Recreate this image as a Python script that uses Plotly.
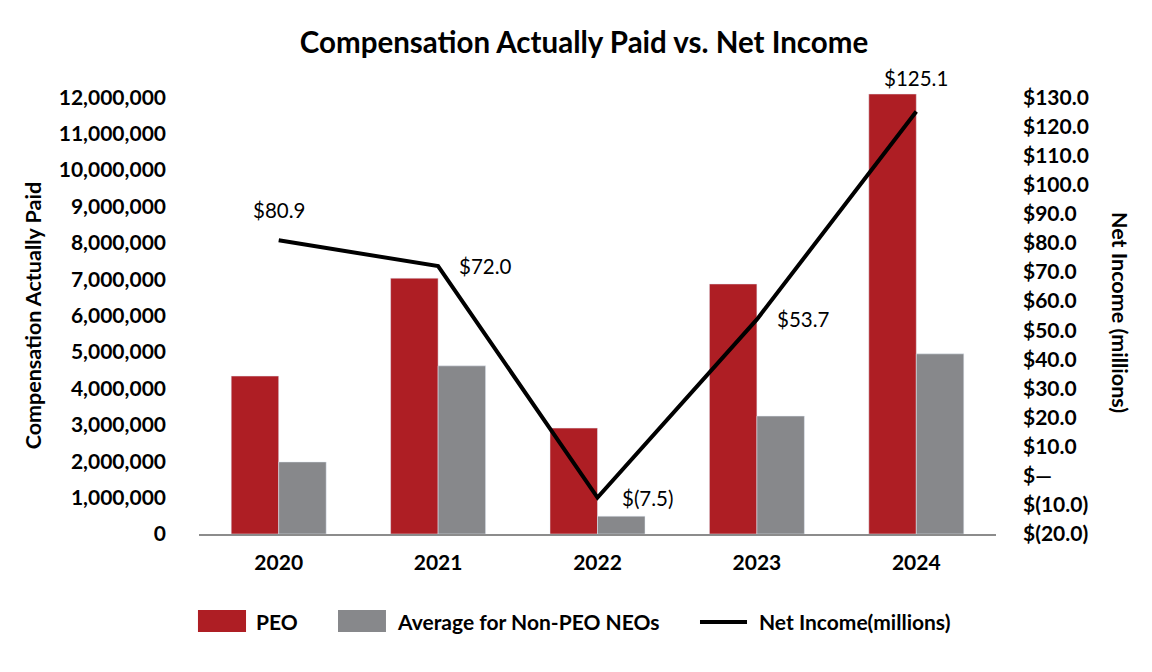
import plotly.graph_objects as go

# Chart data
years = ["2020", "2021", "2022", "2023", "2024"]
peo_cap = [4340000, 7030000, 2910000, 6870000, 12090000]
neo_avg_cap = [1980000, 4620000, 490000, 3240000, 4950000]
net_income = [80.9, 72.0, -7.5, 53.7, 125.1]
net_income_labels = ["$80.9", "$72.0", "$(7.5)", "$53.7", "$125.1"]

left_ticks = list(range(0, 13000000, 1000000))
right_ticks = list(range(-20, 140, 10))
right_tick_text = ["$(20.0)", "$(10.0)", "$\u2014"] + [f"${v:.1f}" for v in right_ticks[3:]]

# Label offsets (px) around each line point
label_shift = [(0, 30), (47, 0), (50, 0), (47, 0), (0, 34)]

FONT = "Lato, 'Open Sans', sans-serif"
RED = "#AE1E24"
GRAY = "#87888B"

fig = go.Figure()

fig.add_trace(go.Bar(x=years, y=peo_cap, name="PEO", marker_color=RED, yaxis="y"))
fig.add_trace(go.Bar(x=years, y=neo_avg_cap, name="Average for Non-PEO NEOs",
                     marker_color=GRAY, yaxis="y"))
fig.add_trace(go.Scatter(x=years, y=net_income, name="Net Income(millions)", mode="lines",
                         line=dict(color="black", width=4), yaxis="y2"))

# on a category axis annotations take the category index
for i, (v, lbl, (dx, dy)) in enumerate(zip(net_income, net_income_labels, label_shift)):
    fig.add_annotation(x=i, y=v, xref="x", yref="y2", text=lbl, showarrow=False,
                       xshift=dx, yshift=dy, font=dict(family=FONT, size=20.5, color="black"))

# axis titles as annotations (right one reads top to bottom)
fig.add_annotation(x=-0.208, y=0.493, xref="paper", yref="paper", text="Compensation Actually Paid",
                   textangle=-90, showarrow=False, xanchor="center", yanchor="middle",
                   font=dict(family=FONT, size=21.5, color="black", weight="bold"))
fig.add_annotation(x=1.1556, y=0.5, xref="paper", yref="paper", text="Net Income (millions)",
                   textangle=90, showarrow=False, xanchor="center", yanchor="middle",
                   font=dict(family=FONT, size=21.5, color="black", weight="bold"))

# legend drawn by hand to get the wide swatches
legend_items = [
    ("rect", RED, -0.0013, 0.059, "PEO", 0.069),
    ("rect", GRAY, 0.1744, 0.2346, "Average for Non-PEO NEOs", 0.2459),
    ("line", "black", 0.6286, 0.6876, "Net Income(millions)", 0.7001),
]
for kind, color, x0, x1, label, tx in legend_items:
    if kind == "rect":
        fig.add_shape(type="rect", xref="paper", yref="paper", x0=x0, x1=x1,
                      y0=-0.2207, y1=-0.1712, fillcolor=color, line_width=0)
    else:
        fig.add_shape(type="line", xref="paper", yref="paper", x0=x0, x1=x1,
                      y0=-0.198, y1=-0.198, line=dict(color=color, width=4))
    fig.add_annotation(x=tx, y=-0.198, xref="paper", yref="paper", text=label,
                       xanchor="left", yanchor="middle", showarrow=False,
                       font=dict(family=FONT, size=21, color="black", weight="bold"))

left_top = 12200000
right_top = -20 + left_top / 12000000 * 150

# page body adds an 8px offset, margins compensate for it
fig.update_layout(
    width=1152, height=672,
    paper_bgcolor="white", plot_bgcolor="white",
    margin=dict(l=191, r=164, t=82, b=146),
    title=dict(text="Compensation Actually Paid vs. Net Income", x=0.5, xanchor="center",
               y=0.949, yanchor="middle",
               font=dict(family=FONT, size=29.5, color="black", weight="bold")),
    font=dict(family=FONT, color="black"),
    showlegend=False,
    barmode="group", bargap=0.404, bargroupgap=0,
    xaxis=dict(type="category", range=[-0.5, 4.5], showline=True, linecolor="#8C8C8C",
               linewidth=2, ticks="", ticklabelstandoff=9,
               tickfont=dict(size=21, weight="bold"), showgrid=False),
    yaxis=dict(range=[0, left_top], tickvals=left_ticks, tickformat=",d", ticks="",
               showgrid=False, zeroline=False, showline=False, ticklabelstandoff=32,
               tickfont=dict(size=21, weight="bold")),
    yaxis2=dict(range=[-20, right_top], overlaying="y", side="right", ticks="",
                tickvals=right_ticks, ticktext=right_tick_text, ticklabelstandoff=26,
                showgrid=False, zeroline=False, showline=False,
                tickfont=dict(size=21, weight="bold")),
)

fig.write_html("out.html")
